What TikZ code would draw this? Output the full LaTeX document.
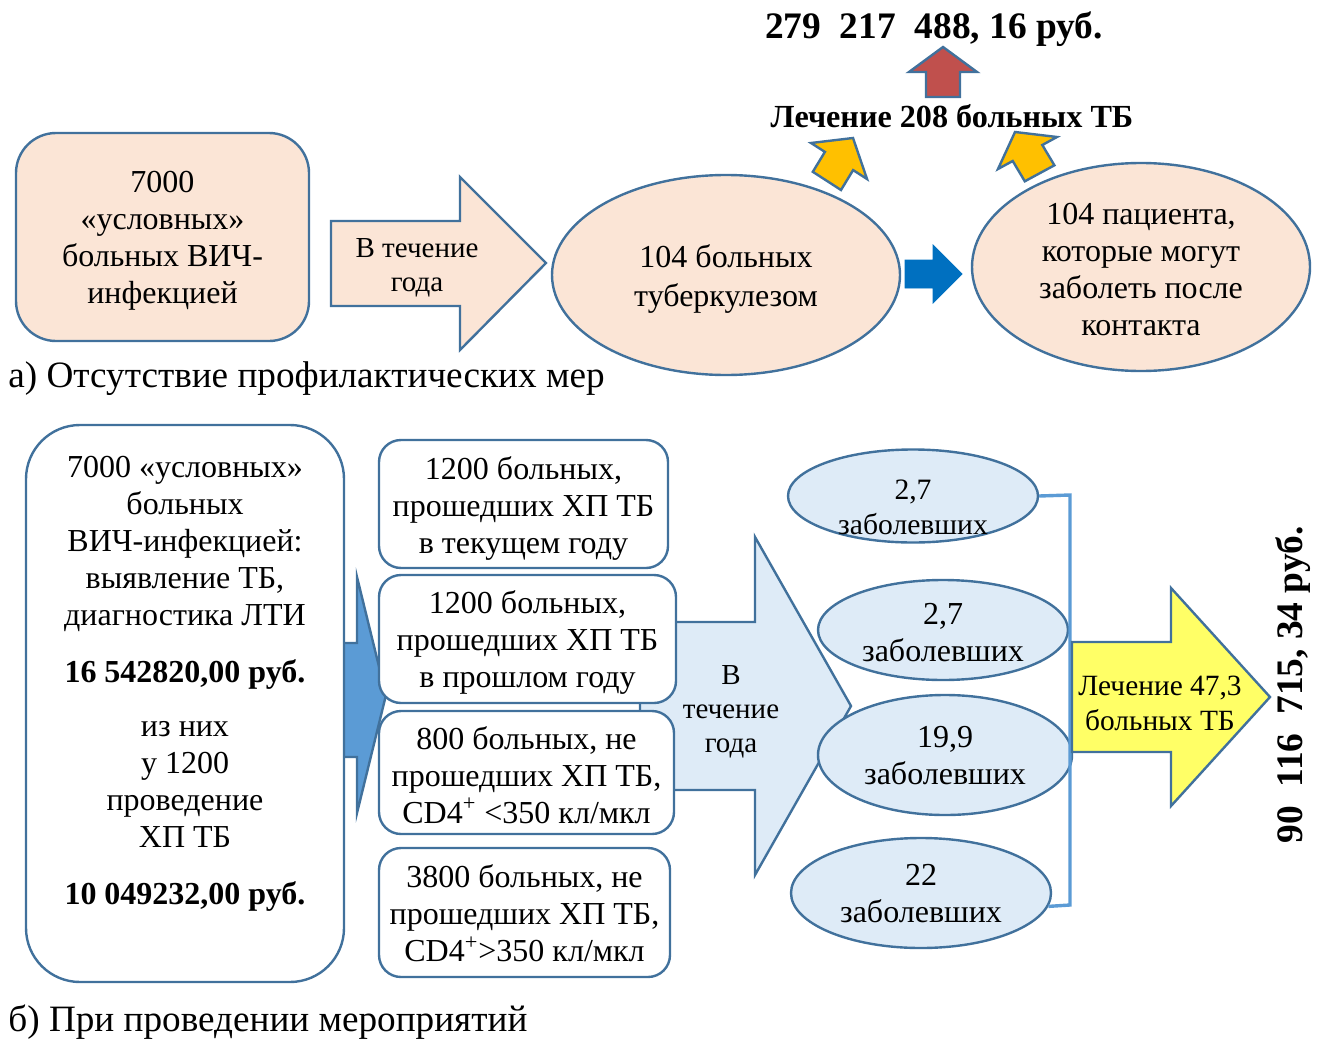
\documentclass[tikz,border=0pt]{standalone}
\usepackage{fontspec}
\setmainfont{Liberation Serif}
\usetikzlibrary{shapes.geometric}
\definecolor{bord}{HTML}{41719C}
\definecolor{peach}{HTML}{FBE5D6}
\definecolor{lblue}{HTML}{DEEBF7}
\definecolor{mblue}{HTML}{5B9BD5}
\definecolor{dblue}{HTML}{0070C0}
\definecolor{gold}{HTML}{FFC000}
\definecolor{redarr}{HTML}{C0504D}
\definecolor{yel}{HTML}{FFFF66}
\begin{document}
\begin{tikzpicture}[x=0.5pt,y=-0.5pt,
  shp/.style={draw=bord, line width=1.2pt, line join=miter},
  txt/.style={align=center, inner sep=0pt, font=\fontsize{16}{18.5}\selectfont},
  smalltxt/.style={align=center, inner sep=0pt, font=\fontsize{14.5}{17}\selectfont},
  boldbig/.style={inner sep=0pt, font=\fontsize{18.7}{22}\selectfont\bfseries},
  caption/.style={anchor=west, inner sep=0pt, font=\fontsize{18.6}{22}\selectfont},
  bluebox/.style={shp, fill=white, rounded corners=11pt},
  bluell/.style={shp, ellipse, fill=lblue, inner sep=0pt},
  bracketline/.style={draw=mblue, line width=1.7pt}]
\useasboundingbox (0,0) rectangle (1332,1038);

% ===== top part =====
\node[shp, fill=peach, rounded corners=20pt, minimum width=146.5pt, minimum height=104pt]
  (a) at (162.5,237) {};
\node[txt] (atxt) at (162.5,241) {7000\\«условных»\\больных ВИЧ-\\инфекцией};

\draw[shp, fill=peach] (331,221) -- (460,221) -- (460,177) -- (546,263) -- (460,350) -- (460,306) -- (331,306) -- cycle;
\node[smalltxt] (a1txt) at (417,268) {В течение\\года};

% yellow arrows
\draw[shp, fill=gold] (812.8,171.8) -- (824.9,151.9) -- (811,143) -- (853,138) -- (867,179) -- (853.1,170.1) -- (841,190) -- cycle;
\draw[shp, fill=gold] (1024.8,181.3) -- (1012.7,161) -- (998,169) -- (1015,132) -- (1057,137) -- (1042.3,145) -- (1054.4,165.3) -- cycle;

\node[shp, ellipse, fill=peach, minimum width=174pt, minimum height=100pt, inner sep=0pt]
  (e1) at (726,275) {};
\node[txt] (e1txt) at (726,279) {104 больных\\[1pt]туберкулезом};
\node[shp, ellipse, fill=peach, minimum width=169pt, minimum height=104pt, inner sep=0pt]
  (e2) at (1141,267) {};
\node[txt] (e2txt) at (1141,270) {104 пациента,\\которые могут\\заболеть после\\контакта};

\draw[draw=dblue, fill=dblue, line join=miter] (905,260) -- (933,260) -- (933,245) -- (962,274) -- (933,303) -- (933,288) -- (905,288) -- cycle;

\draw[shp, fill=redarr] (926,97) -- (926,72) -- (909,72) -- (943,47) -- (977,72) -- (960,72) -- (960,97) -- cycle;

\node[boldbig] (cost1) at (934,29) {279\ \ 217\ \ 488, 16 руб.};
\node[inner sep=0pt, font=\fontsize{16.1}{18}\selectfont\bfseries] (treat) at (952,116) {Лечение 208 больных ТБ};

\node[caption] (capa) at (8,379) {а) Отсутствие профилактических мер};

% ===== bottom part =====
\draw[shp, fill=mblue] (343,643) -- (357,643) -- (357,577) -- (386,695) -- (357,813) -- (357,757) -- (343,757) -- cycle;

\node[shp, fill=white, rounded corners=27pt, minimum width=159pt, minimum height=278.5pt] (big) at (185,703.5) {};
\node[txt] (bigtxt) at (185,684) {7000 «условных»\\больных\\ВИЧ-инфекцией:\\выявление ТБ,\\диагностика ЛТИ\\[10pt]
  \textbf{16 542820,00 руб.}\\[8.5pt]из них\\у 1200\\проведение\\ХП ТБ\\[10pt]\textbf{10 049232,00 руб.}};

\draw[shp, fill=lblue] (640,622) -- (755,622) -- (755,537) -- (851,706) -- (755,875) -- (755,790) -- (640,790) -- cycle;
\node[smalltxt] (a2txt) at (731,712) {В\\течение\\года};

\node[bluebox, minimum width=144.5pt, minimum height=64pt] (b1) at (523.5,504) {};
\node[txt] (b1txt) at (523.5,508) {1200 больных,\\прошедших ХП ТБ\\в текущем году};
\node[bluebox, minimum width=148.5pt, minimum height=64pt] (b2) at (527.5,639) {};
\node[txt] (b2txt) at (527.5,642) {1200 больных,\\прошедших ХП ТБ\\в прошлом году};
\node[bluebox, minimum width=147.5pt, minimum height=61.5pt] (b3) at (526.5,772.5) {};
\node[txt] (b3txt) at (526.5,775) {800 больных, не\\прошедших ХП ТБ,\\CD4\textsuperscript{+} <350 кл/мкл};
\node[bluebox, minimum width=145.5pt, minimum height=64.5pt] (b4) at (524.5,912.5) {};
\node[txt] (b4txt) at (524.5,913.5) {3800 больных, не\\прошедших ХП ТБ,\\CD4\textsuperscript{+}>350 кл/мкл};

\coordinate (brt) at (1070,495);
\coordinate (brb) at (1070,905);

\node[bluell, minimum width=125pt, minimum height=46.5pt] (f1) at (913,496) {};
\node[align=center, inner sep=0pt, font=\fontsize{14.8}{17.5}\selectfont] (f1txt) at (913,507) {2,7\\заболевших};
\node[bluell, minimum width=125pt, minimum height=50pt] (f2) at (943,630) {};
\node[txt] (f2txt) at (943,633) {2,7\\заболевших};
\node[bluell, minimum width=127pt, minimum height=60pt] (f3) at (945,755) {};
\node[txt] (f3txt) at (945,755.5) {19,9\\заболевших};
\node[bluell, minimum width=130pt, minimum height=55pt] (f4) at (921,893) {};
\node[txt] (f4txt) at (921,893.5) {22\\заболевших};

\draw[bracketline] (f1.east) -- (brt) -- (brb) -- (f4.-6);

\draw[shp, fill=yel] (1072,642) -- (1171,642) -- (1171,588) -- (1270,697) -- (1171,806) -- (1171,752) -- (1072,752) -- cycle;
\node[align=center, inner sep=0pt, font=\fontsize{14.7}{17.5}\selectfont] (ytxt) at (1160,703) {Лечение 47,3\\больных ТБ};

\node[boldbig, rotate=90] (cost2) at (1293,685) {90\ \ 116\ \ 715, 34 руб.};

\node[caption] (capb) at (8,1022) {б) При проведении мероприятий};
\end{tikzpicture}
\end{document}
